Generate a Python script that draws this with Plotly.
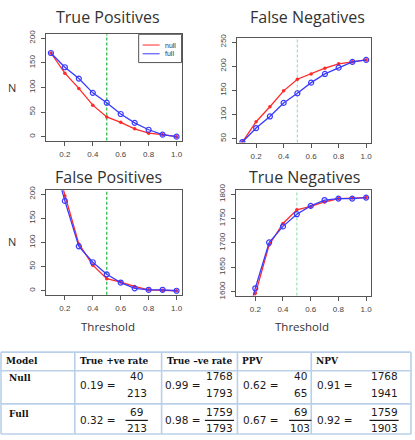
import plotly.graph_objects as go

# ---------------- data ----------------
thresholds = [0.1, 0.2, 0.3, 0.4, 0.5, 0.6, 0.7, 0.8, 0.9, 1.0]
tp_null = [170, 129, 98, 64, 40, 29, 16, 7, 4, 0]
tp_full = [170, 141, 118, 89, 69, 46, 28, 14, 4, 0]
fn_null = [43, 85, 116, 149, 173, 184, 196, 205, 209, 213]
fn_full = [43, 72, 96, 124, 144, 166, 184, 197, 209, 213]
fp_null = [300, 196, 97, 53, 25, 18, 9, 2, 1, 0]
fp_full = [290, 186, 92, 59, 34, 17, 5, 2, 2, 0]
tn_null = [1493, 1597, 1696, 1740, 1768, 1775, 1784, 1791, 1792, 1793]
tn_full = [1503, 1607, 1701, 1734, 1759, 1776, 1788, 1791, 1791, 1793]
cutoff = 0.5

panel_titles = ["True Positives", "False Negatives", "False Positives", "True Negatives"]
x_ticks = [0.2, 0.4, 0.6, 0.8, 1.0]
x_tick_labels = ["0.2", "0.4", "0.6", "0.8", "1.0"]
y_ticks_counts = [0, 50, 100, 150, 200]
y_ticks_fn = [50, 100, 150, 200, 250]
y_ticks_tn = [1600, 1650, 1700, 1750, 1800]

table_header = ["Model", "True +ve rate", "True \u2013ve rate", "PPV", "NPV"]
row_models = ["Null", "Full"]
rates = [["0.19", "0.99", "0.62", "0.91"], ["0.32", "0.98", "0.67", "0.92"]]
numerators = [["40", "1768", "40", "1768"], ["69", "1759", "69", "1759"]]
denominators = [["213", "1793", "65", "1941"], ["213", "1793", "103", "1903"]]

# ---------------- layout helpers ----------------
W, H = 415, 440


def px(x):
    return x / W


def py(y):
    return 1 - y / H


RED = "#ff2a2a"
BLUE = "#3a3aff"
AX = "#555555"
TICKFONT = dict(family="Liberation Sans, Arial, sans-serif", size=8, color="#444444")

# panel boxes in pixels: (x0, x1, ytop, ybottom)
boxes = [(46, 182, 28, 137), (238, 372, 32, 139), (46, 182, 188, 295), (237, 372, 188, 296)]
yranges = [[-8, 208], [42, 258], [-8, 208], [1592, 1808]]
yticks = [y_ticks_counts, y_ticks_fn, y_ticks_counts, y_ticks_tn]
series = [(tp_null, tp_full), (fn_null, fn_full), (fp_null, fp_full), (tn_null, tn_full)]
cut_colors = ["#2dbb4d", "#a6e2b8", "#2dbb4d", "#a6e2b8"]

fig = go.Figure()
layout = dict(
    width=W, height=H, autosize=False,
    margin=dict(l=0, r=0, t=0, b=0),
    paper_bgcolor="white", plot_bgcolor="white",
    showlegend=False,
)
shapes = []
annotations = []

for i in range(4):
    sfx = "" if i == 0 else str(i + 1)
    xa, ya = "x" + sfx, "y" + sfx
    x0, x1, yt, yb = boxes[i]
    nul, ful = series[i]
    fig.add_trace(go.Scatter(
        x=thresholds, y=nul, xaxis=xa, yaxis=ya, mode="lines+markers",
        line=dict(color=RED, width=1.3), marker=dict(color=RED, size=3.5),
        name="null", cliponaxis=True))
    fig.add_trace(go.Scatter(
        x=thresholds, y=ful, xaxis=xa, yaxis=ya, mode="lines+markers",
        line=dict(color=BLUE, width=1.3),
        marker=dict(color=BLUE, size=5, symbol="circle-open", line=dict(width=1.2)),
        name="full", cliponaxis=True))
    layout["xaxis" + sfx] = dict(
        domain=[px(x0), px(x1)], range=[0.064, 1.036], anchor=ya,
        tickvals=x_ticks, ticktext=x_tick_labels,
        ticks="outside", ticklen=4, tickcolor=AX, tickfont=TICKFONT,
        ticklabelstandoff=2,
        showline=True, linecolor=AX, linewidth=1, mirror=True,
        showgrid=False, zeroline=False, fixedrange=True)
    layout["yaxis" + sfx] = dict(
        domain=[py(yb), py(yt)], range=yranges[i], anchor=xa,
        tickvals=yticks[i], ticks="outside", ticklen=4, tickcolor=AX,
        tickfont=TICKFONT, tickangle=-90, ticklabelstandoff=3,
        showline=True, linecolor=AX, linewidth=1, mirror=True,
        showgrid=False, zeroline=False, fixedrange=True)
    shapes.append(dict(
        type="line", xref=xa, yref=ya + " domain", x0=cutoff, x1=cutoff, y0=0, y1=1,
        line=dict(color=cut_colors[i], width=1.3, dash="3px,2px"), layer="below"))

# panel titles
title_pos = [(108, 10), (308, 10), (109, 174), (305, 174)]
for t, (tx, ty) in zip(panel_titles, title_pos):
    annotations.append(dict(text=t, x=px(tx), y=py(ty), xref="paper", yref="paper",
                            showarrow=False, xanchor="center", yanchor="middle",
                            font=dict(family="Open Sans, sans-serif", size=16, color="#333333")))

# axis labels
for (tx, ty) in [(12, 83), (12, 241)]:
    annotations.append(dict(text="N", x=px(tx), y=py(ty), xref="paper", yref="paper",
                            showarrow=False, xanchor="center", yanchor="middle",
                            font=dict(family="Open Sans, sans-serif", size=11, color="#333333")))
for (tx, ty) in [(108, 328), (303, 328)]:
    annotations.append(dict(text="Threshold", x=px(tx), y=py(ty), xref="paper", yref="paper",
                            showarrow=False, xanchor="center", yanchor="middle",
                            font=dict(family="Open Sans, sans-serif", size=11.5, color="#333333")))

# legend (top-right of first panel)
shapes.append(dict(type="rect", xref="paper", yref="paper", x0=px(139), x1=px(182),
                   y0=py(57), y1=py(28), line=dict(color=AX, width=1), fillcolor="white"))
for lbl, col, ly in [("null", RED, 39), ("full", BLUE, 48)]:
    shapes.append(dict(type="line", xref="paper", yref="paper", x0=px(143), x1=px(160),
                       y0=py(ly), y1=py(ly), line=dict(color=col, width=1)))
    annotations.append(dict(text=lbl, x=px(163), y=py(ly), xref="paper", yref="paper",
                            showarrow=False, xanchor="left", yanchor="middle",
                            font=dict(family="Liberation Sans, Arial, sans-serif", size=7, color="#333333")))

# ---------------- table ----------------
col_edges = [1, 75, 162, 238, 312, 412]
row_edges = [354, 373, 407, 438]
TBL = "#b9d0e8"
for cx in col_edges:
    shapes.append(dict(type="line", xref="paper", yref="paper", x0=px(cx), x1=px(cx),
                       y0=py(row_edges[0]), y1=py(row_edges[-1]), line=dict(color=TBL, width=1.6)))
for ry in row_edges:
    shapes.append(dict(type="line", xref="paper", yref="paper", x0=px(col_edges[0]), x1=px(col_edges[-1]),
                       y0=py(ry), y1=py(ry), line=dict(color=TBL, width=1.6)))

HFONT = dict(family="DejaVu Serif, serif", size=9, color="#111111")
NFONT = dict(family="DejaVu Sans, sans-serif", size=10.5, color="#1a1a1a")
for j, h in enumerate(table_header):
    annotations.append(dict(text="<b>" + h + "</b>", x=px(col_edges[j] + 3), y=py(363),
                            xref="paper", yref="paper", showarrow=False,
                            xanchor="left", yanchor="middle", font=HFONT))

eq_right = [118, 203, 282, 356]
frac_center = [137, 220, 301, 385]
row_lbl_y = [380, 417]
num_y = [378, 415]
den_y = [396, 432]
expr_y = [388, 424]
for r in range(2):
    annotations.append(dict(text="<b>" + row_models[r] + "</b>", x=px(col_edges[0] + 6), y=py(row_lbl_y[r]),
                            xref="paper", yref="paper", showarrow=False,
                            xanchor="left", yanchor="middle", font=HFONT))
    for c in range(4):
        annotations.append(dict(text=rates[r][c] + " =", x=px(eq_right[c]), y=py(expr_y[r]),
                                xref="paper", yref="paper", showarrow=False,
                                xanchor="right", yanchor="middle", font=NFONT))
        annotations.append(dict(text=numerators[r][c], x=px(frac_center[c]), y=py(num_y[r]),
                                xref="paper", yref="paper", showarrow=False,
                                xanchor="center", yanchor="middle", font=NFONT))
        annotations.append(dict(text=denominators[r][c], x=px(frac_center[c]), y=py(den_y[r]),
                                xref="paper", yref="paper", showarrow=False,
                                xanchor="center", yanchor="middle", font=NFONT))
        if r == 1:
            half = 3.4 * len(denominators[r][c]) + 1
            shapes.append(dict(type="line", xref="paper", yref="paper",
                               x0=px(frac_center[c] - half), x1=px(frac_center[c] + half),
                               y0=py(expr_y[r]), y1=py(expr_y[r]),
                               line=dict(color="#1a1a1a", width=1.2)))

layout["shapes"] = shapes
layout["annotations"] = annotations
fig.update_layout(**layout)

fig.write_html("out.html", config={"displayModeBar": False},
               post_script="document.body.style.margin='0';document.body.style.overflow='hidden';")
